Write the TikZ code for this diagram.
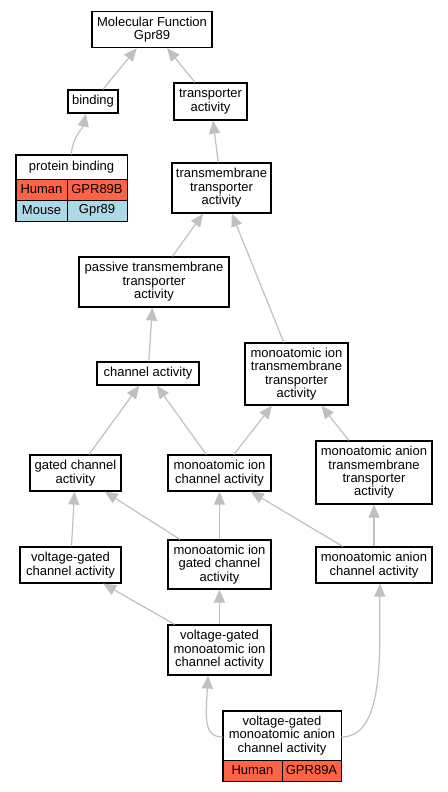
\documentclass[tikz,border=0pt]{standalone}
\usepackage{fontspec}
\setmainfont{Liberation Sans}
\usetikzlibrary{arrows.meta}
\definecolor{edgegray}{HTML}{C0C0C0}
\definecolor{humancol}{HTML}{FF6347}
\definecolor{mousecol}{HTML}{ADD8E6}
\tikzset{
  box/.style={draw=black, line width=1.2pt, fill=white, align=center, inner sep=0pt,
    font=\fontsize{13}{13.4}\selectfont},
  cell/.style={draw=black, line width=0.9pt, align=center, inner sep=0pt,
    font=\fontsize{13}{13.4}\selectfont},
  edge/.style={draw=edgegray, line width=1.2pt, -{Triangle[length=13pt,width=11pt]}},
}
\begin{document}
\begin{tikzpicture}[x=1pt,y=-1pt]
\useasboundingbox (0,0) rectangle (447,792);
% nodes
\node[box, minimum width=120pt, minimum height=36pt] (mf) at (152,29.5) {Molecular Function\\Gpr89};
\node[box, minimum width=50pt, minimum height=23pt] (binding) at (93,101.5) {binding};
\node[box, minimum width=73pt, minimum height=37pt] (transp) at (210.5,101.5) {transporter\\activity};
% protein binding table
\node[cell, fill=white, minimum width=111pt, minimum height=24pt] (pb) at (71.5,167) {protein binding};
\node[cell, fill=humancol, minimum width=51pt, minimum height=21pt] (pbh1) at (41.5,189.5) {Human};
\node[cell, fill=humancol, minimum width=60pt, minimum height=21pt] (pbh2) at (97,189.5) {GPR89B};
\node[cell, fill=mousecol, minimum width=51pt, minimum height=21pt] (pbm1) at (41.5,210.5) {Mouse};
\node[cell, fill=mousecol, minimum width=60pt, minimum height=21pt] (pbm2) at (97,210.5) {Gpr89};
\draw[line width=1.2pt] (pb.north west) rectangle (pbm2.south east);
\node[box, minimum width=99pt, minimum height=50pt] (tm) at (221.5,188) {transmembrane\\transporter\\activity};
\node[box, minimum width=150pt, minimum height=50pt] (passive) at (154,282) {passive transmembrane\\transporter\\activity};
\node[box, minimum width=102pt, minimum height=23pt] (channel) at (148,373.5) {channel activity};
\node[box, minimum width=103pt, minimum height=62pt] (iontm) at (296.5,374) {monoatomic ion\\transmembrane\\transporter\\activity};
\node[box, minimum width=91pt, minimum height=36pt] (gated) at (75.5,473) {gated channel\\activity};
\node[box, minimum width=103pt, minimum height=36pt] (ionch) at (219.5,473) {monoatomic ion\\channel activity};
\node[box, minimum width=116pt, minimum height=63pt] (aniontm) at (374,472.5) {monoatomic anion\\transmembrane\\transporter\\activity};
\node[box, minimum width=101pt, minimum height=36pt] (vgch) at (70.5,565) {voltage-gated\\channel activity};
\node[box, minimum width=103pt, minimum height=49pt] (iongated) at (219.5,564.5) {monoatomic ion\\gated channel\\activity};
\node[box, minimum width=116pt, minimum height=36pt] (anionch) at (374,565) {monoatomic anion\\channel activity};
\node[box, minimum width=103pt, minimum height=50pt] (vgion) at (219.5,650) {voltage-gated\\monoatomic ion\\channel activity};
% vg anion table
\node[cell, fill=white, minimum width=118pt, minimum height=49pt] (vgan) at (282,735.5) {voltage-gated\\monoatomic anion\\channel activity};
\node[cell, fill=humancol, minimum width=59pt, minimum height=21pt] (vganh1) at (252.5,770.5) {Human};
\node[cell, fill=humancol, minimum width=59pt, minimum height=21pt] (vganh2) at (311.5,770.5) {GPR89A};
\draw[line width=1.2pt] (vgan.north west) rectangle (vganh2.south east);
% edges
\draw[edge] (binding) -- (mf);
\draw[edge] (transp) -- (mf);
\draw[edge] (pb.north) .. controls +(0,-16) and +(-3,14) .. ([xshift=-7pt]binding.south);
\draw[edge] (tm) -- (transp);
\draw[edge] (passive) -- (tm);
\draw[edge] (iontm) -- (tm);
\draw[edge] (channel) -- (passive);
\draw[edge] (gated) -- (channel);
\draw[edge] (ionch) -- (channel);
\draw[edge] (ionch) -- (iontm);
\draw[edge] (aniontm) -- (iontm);
\draw[edge] (vgch) -- (gated);
\draw[edge] (iongated) -- (gated);
\draw[edge] (iongated) -- (ionch);
\draw[edge] (anionch) -- (ionch);
\draw[edge] (anionch) -- (aniontm);
\draw[edge] (vgion) -- (vgch);
\draw[edge] (vgion) -- (iongated);
\draw[edge] ([yshift=-1.5pt]vgan.west) .. controls +(-20,0) and +(-2,40) .. ([xshift=-11.5pt]vgion.south);
\draw[edge] ([yshift=-1.5pt]vgan.east) .. controls +(45,0) and +(-1,60) .. ([xshift=6pt]anionch.south);
\end{tikzpicture}
\end{document}
